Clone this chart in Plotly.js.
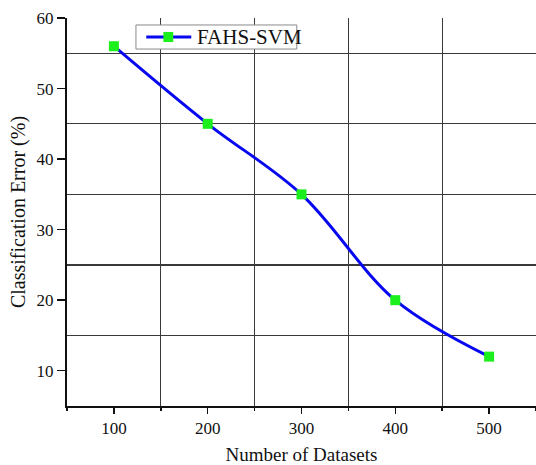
<!DOCTYPE html>
<html>
<head>
<meta charset="utf-8">
<script src="https://cdn.plot.ly/plotly-3.0.1.min.js"></script>
<style>html,body{margin:0;padding:0;background:#fff;}#chart{width:536px;height:465px;}</style>
</head>
<body>
<div id="chart"></div>
<script>
const datasets = [100, 200, 300, 400, 500];
const errorFAHS = [56, 45, 35, 20, 12];
const xTicks = [100, 200, 300, 400, 500];
const yTicks = [10, 20, 30, 40, 50, 60];
const seriesName = 'FAHS-SVM';

const serif = '"Liberation Serif", "Times New Roman", serif';
const lineColor = '#0808f0';
const markerColor = '#1cf01c';

const trace = {
  x: datasets,
  y: errorFAHS,
  name: seriesName,
  type: 'scatter',
  mode: 'lines+markers',
  line: {color: lineColor, width: 3, shape: 'spline', smoothing: 1},
  marker: {symbol: 'square', color: markerColor, size: 10, line: {width: 0}},
  showlegend: false
};

// legend box (paper coords, plot area x:67..536, y:18..406 px)
const shapes = [
  {type: 'rect', xref: 'paper', yref: 'paper', x0: 0.147, x1: 0.490, y0: 0.920, y1: 0.982,
   line: {color: '#8a8a8a', width: 1}, fillcolor: '#ffffff', layer: 'above'},
  {type: 'line', xref: 'paper', yref: 'paper', x0: 0.169, x1: 0.265, y0: 0.951, y1: 0.951,
   line: {color: lineColor, width: 3}, layer: 'above'},
  {type: 'rect', xref: 'paper', yref: 'paper', x0: 0.2055, x1: 0.2265, y0: 0.938, y1: 0.964,
   line: {width: 0}, fillcolor: markerColor, layer: 'above'}
];

const layout = {
  width: 536, height: 465,
  margin: {l: 67, r: 0, t: 18, b: 59},
  paper_bgcolor: '#ffffff',
  plot_bgcolor: '#ffffff',
  font: {family: serif, color: '#111', size: 17},
  showlegend: false,
  shapes: shapes,
  annotations: [
    {text: seriesName, xref: 'paper', yref: 'paper', x: 0.273, y: 0.951,
     xanchor: 'left', yanchor: 'middle', showarrow: false,
     font: {family: serif, size: 21, color: '#111'}}
  ],
  xaxis: {
    range: [50, 550],
    tickvals: xTicks,
    ticktext: xTicks.map(String),
    ticks: 'outside', ticklen: 6, tickwidth: 1.5, tickcolor: '#111',
    showgrid: false, zeroline: false,
    showline: true, linecolor: '#111', linewidth: 2,
    minor: {tick0: 50, dtick: 100, showgrid: true, gridcolor: '#3a3a3a', gridwidth: 1.3, ticks: 'outside', ticklen: 3, tickcolor: '#111'},
    title: {text: 'Number of Datasets', font: {family: serif, size: 19, color: '#111'}, standoff: 16},
    tickfont: {family: serif, size: 17, color: '#111'}
  },
  yaxis: {
    range: [5, 60],
    tickvals: yTicks,
    ticks: 'outside', ticklen: 8, tickwidth: 1.5, tickcolor: '#111',
    showgrid: false, zeroline: false,
    showline: true, linecolor: '#111', linewidth: 2,
    minor: {tick0: 5, dtick: 10, showgrid: true, gridcolor: '#3a3a3a', gridwidth: 1.3, ticks: ''},
    title: {text: 'Classification Error (%)', font: {family: serif, size: 20, color: '#111'}, standoff: 6},
    tickfont: {family: serif, size: 17, color: '#111'}
  }
};

Plotly.newPlot('chart', [trace], layout, {displayModeBar: false, staticPlot: true});
</script>
</body>
</html>
